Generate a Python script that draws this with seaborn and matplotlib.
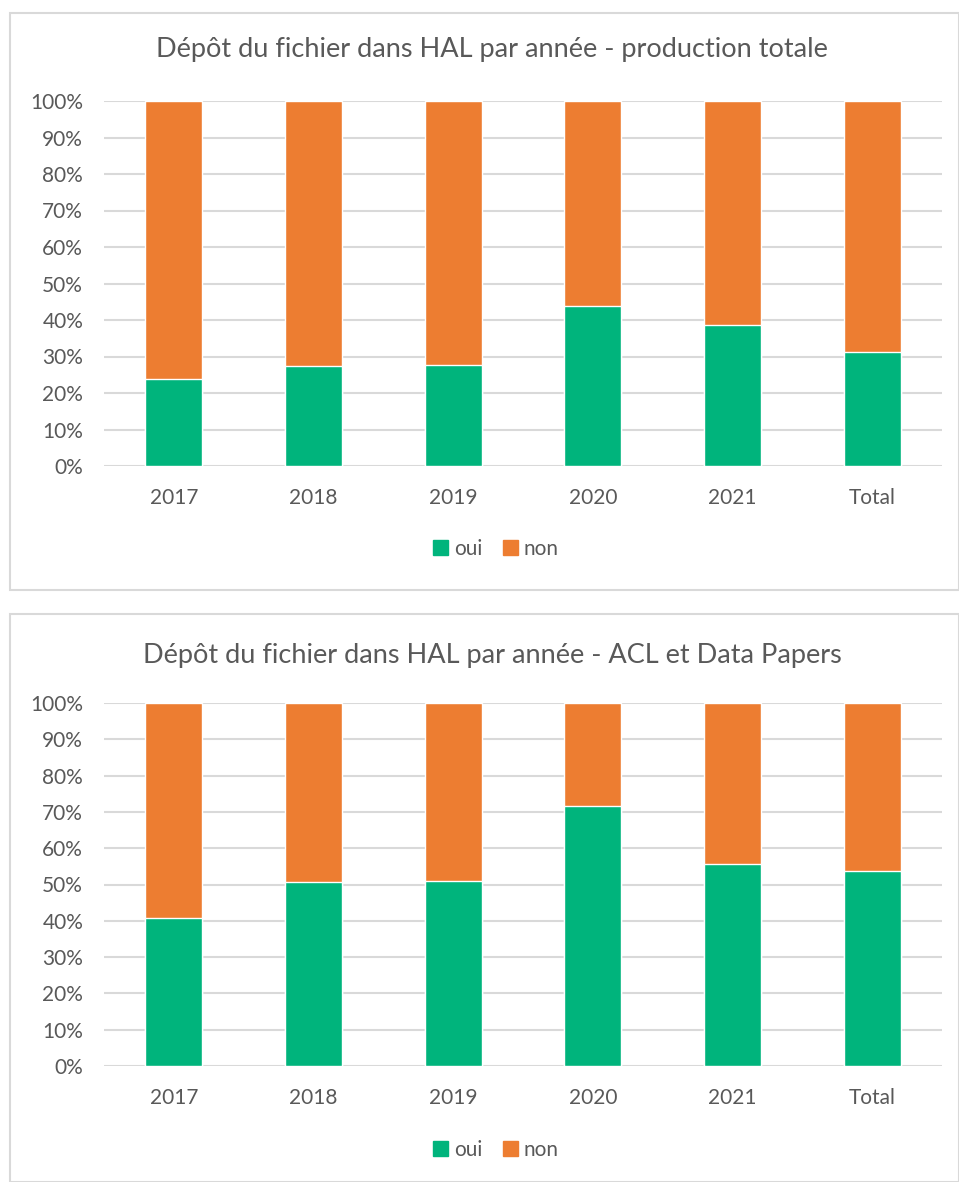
import matplotlib
matplotlib.use("Agg")
import matplotlib.pyplot as plt
import matplotlib.patches as mpatches
from matplotlib.ticker import PercentFormatter
import seaborn as sns
import pandas as pd

# Données (part "oui" en %)
annees = ['2017', '2018', '2019', '2020', '2021', 'Total']
oui_total = [23.8, 27.4, 27.7, 43.9, 38.6, 31.3]
oui_acl = [40.8, 50.7, 51.1, 71.5, 55.6, 53.6]
titres = ['Dépôt du fichier dans HAL par année - production totale',
          'Dépôt du fichier dans HAL par année - ACL et Data Papers']

vert = '#00B47C'
orange = '#ED7D31'
gris_txt = '#595959'
gris_grille = '#D9D9D9'

sns.set_theme(style="white")
plt.rcParams['font.family'] = ['Lato', 'DejaVu Sans']

fig = plt.figure(figsize=(9.59, 11.82), dpi=100)
W, H = 959, 1182

# cadres des deux graphiques
for (y0, y1) in [(13, 590), (614, 1182)]:
    fig.patches.append(mpatches.Rectangle((10 / W, 1 - y1 / H), (W - 10) / W, (y1 - y0) / H,
                                          transform=fig.transFigure, fill=False,
                                          edgecolor=gris_grille, linewidth=1.5))

axes_pos = [(101, 466, 50, 549), (703, 1066, 655, 1150)]

for oui, titre, (ytop, ybot, ytitre, yleg) in zip([oui_total, oui_acl], titres, axes_pos):
    ax = fig.add_axes([104 / W, 1 - ybot / H, 838 / W, (ybot - ytop) / H])
    df = pd.DataFrame({'annee': annees, 'oui': oui})
    df['non'] = 100 - df['oui']
    df['cumul'] = df['oui'] + df['non']
    sns.barplot(data=df, x='annee', y='cumul', color=orange, width=0.41,
                saturation=1, ax=ax)
    sns.barplot(data=df, x='annee', y='oui', color=vert, width=0.41,
                saturation=1, ax=ax)
    ax.set_ylim(0, 100)
    ax.set_xlim(-0.5, 5.5)
    ax.set_yticks(range(0, 101, 10))
    ax.yaxis.set_major_formatter(PercentFormatter(decimals=0))
    ax.grid(axis='y', color=gris_grille, linewidth=1.5)
    ax.set_axisbelow(True)
    for s in ['top', 'right', 'left', 'bottom']:
        ax.spines[s].set_visible(False)
    ax.tick_params(axis='both', length=0, labelsize=15, colors=gris_txt)
    ax.tick_params(axis='x', pad=16)
    ax.tick_params(axis='y', pad=15)
    ax.set_xlabel('')
    ax.set_ylabel('')
    fig.text(492 / W, 1 - ytitre / H, titre, ha='center', va='center',
             fontsize=19.5, color=gris_txt)
    poignees = [mpatches.Patch(color=vert, label='oui'),
                mpatches.Patch(color=orange, label='non')]
    fig.legend(handles=poignees, loc='center', bbox_to_anchor=(496 / W, 1 - yleg / H),
               ncol=2, frameon=False, fontsize=15, labelcolor=gris_txt,
               handlelength=0.7, handleheight=0.7, handletextpad=0.3, columnspacing=1.0)

plt.savefig('out.png', dpi=100)
plt.close()
